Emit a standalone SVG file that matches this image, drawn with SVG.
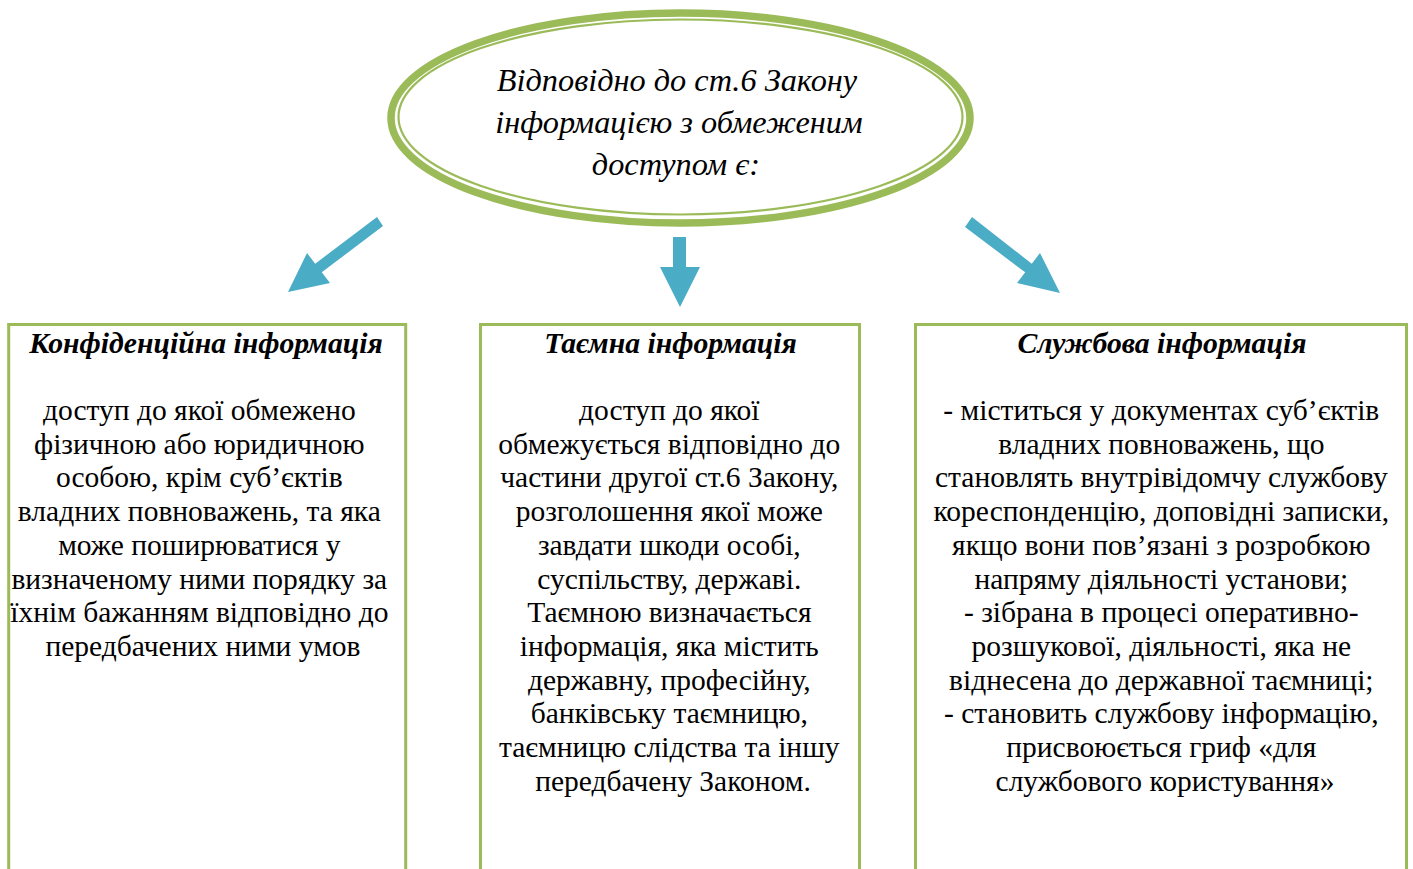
<svg xmlns="http://www.w3.org/2000/svg" width="1413" height="869" viewBox="0 0 1413 869">
<style>
.box{fill:#ffffff;stroke:#9BBB59;stroke-width:3}
.arr{fill:#4BACC6;stroke:none}
.ttl{font-family:"Liberation Serif","Times New Roman",serif;font-style:italic;font-size:32.3px;fill:#000;text-anchor:middle}
.hd{font-family:"Liberation Serif","Times New Roman",serif;font-style:italic;font-weight:bold;font-size:29.7px;fill:#000;text-anchor:middle}
.bd{font-family:"Liberation Serif","Times New Roman",serif;font-size:29.5px;fill:#000;text-anchor:middle}
</style>
<rect width="1413" height="869" fill="#ffffff"/>
<g id="root">
<ellipse cx="680.5" cy="118" rx="289.5" ry="105" fill="#ffffff" stroke="#9BBB59" stroke-width="7.5"/>
<ellipse cx="680.5" cy="117" rx="282" ry="97.5" fill="none" stroke="#9BBB59" stroke-width="2.2"/>
<text class="ttl" x="677" y="91">Відповідно до ст.6 Закону</text>
<text class="ttl" x="679" y="133">інформацією з обмеженим</text>
<text class="ttl" x="676" y="175">доступом є:</text>
</g>
<g id="connectors">
<polygon class="arr" points="377,217 383,226 321.8,272.3 330,283 288,292 307,253 315.2,263.7"/>
<polygon class="arr" points="673,237 686,237 686,267 700,267 680,307 660,267 673,267"/>
<polygon class="arr" points="972,217 1031.8,263.7 1040,253 1060,293 1017,283 1025.2,272.3 965,227"/>
</g>
<g id="box-confidential">
<rect class="box" x="8.7" y="324.5" width="397" height="560"/>
<text class="hd" x="206" y="353">Конфіденційна інформація</text>
<text class="bd" x="203">
<tspan x="203" y="420">доступ до якої обмежено</tspan>
<tspan x="203" y="453.7">фізичною або юридичною</tspan>
<tspan x="203" y="487.4">особою, крім суб’єктів</tspan>
<tspan x="203" y="521.1">владних повноважень, та яка</tspan>
<tspan x="203" y="554.8">може поширюватися у</tspan>
<tspan x="203" y="588.5">визначеному ними порядку за</tspan>
<tspan x="203" y="622.2">їхнім бажанням відповідно до</tspan>
<tspan x="203" y="655.9">передбачених ними умов</tspan>
</text>
</g>
<g id="box-secret">
<rect class="box" x="480.5" y="324.5" width="379" height="560"/>
<text class="hd" x="670.5" y="353">Таємна інформація</text>
<text class="bd" x="673">
<tspan x="673" y="420">доступ до якої</tspan>
<tspan x="673" y="453.7">обмежується відповідно до</tspan>
<tspan x="673" y="487.4">частини другої ст.6 Закону,</tspan>
<tspan x="673" y="521.1">розголошення якої може</tspan>
<tspan x="673" y="554.8">завдати шкоди особі,</tspan>
<tspan x="673" y="588.5">суспільству, державі.</tspan>
<tspan x="673" y="622.2">Таємною визначається</tspan>
<tspan x="673" y="655.9">інформація, яка містить</tspan>
<tspan x="673" y="689.6">державну, професійну,</tspan>
<tspan x="673" y="723.3">банківську таємницю,</tspan>
<tspan x="673" y="757">таємницю слідства та іншу</tspan>
<tspan x="673" y="790.7">передбачену Законом.</tspan>
</text>
</g>
<g id="box-official">
<rect class="box" x="915.5" y="324.5" width="491" height="560"/>
<text class="hd" x="1162" y="353">Службова інформація</text>
<text class="bd" x="1165">
<tspan x="1165" y="420">- міститься у документах суб’єктів</tspan>
<tspan x="1165" y="453.7">владних повноважень, що</tspan>
<tspan x="1165" y="487.4">становлять внутрівідомчу службову</tspan>
<tspan x="1165" y="521.1">кореспонденцію, доповідні записки,</tspan>
<tspan x="1165" y="554.8">якщо вони пов’язані з розробкою</tspan>
<tspan x="1165" y="588.5">напряму діяльності установи;</tspan>
<tspan x="1165" y="622.2">- зібрана в процесі оперативно-</tspan>
<tspan x="1165" y="655.9">розшукової, діяльності, яка не</tspan>
<tspan x="1165" y="689.6">віднесена до державної таємниці;</tspan>
<tspan x="1165" y="723.3">- становить службову інформацію,</tspan>
<tspan x="1165" y="757">присвоюється гриф «для</tspan>
<tspan x="1165" y="790.7">службового користування»</tspan>
</text>
</g>
</svg>
